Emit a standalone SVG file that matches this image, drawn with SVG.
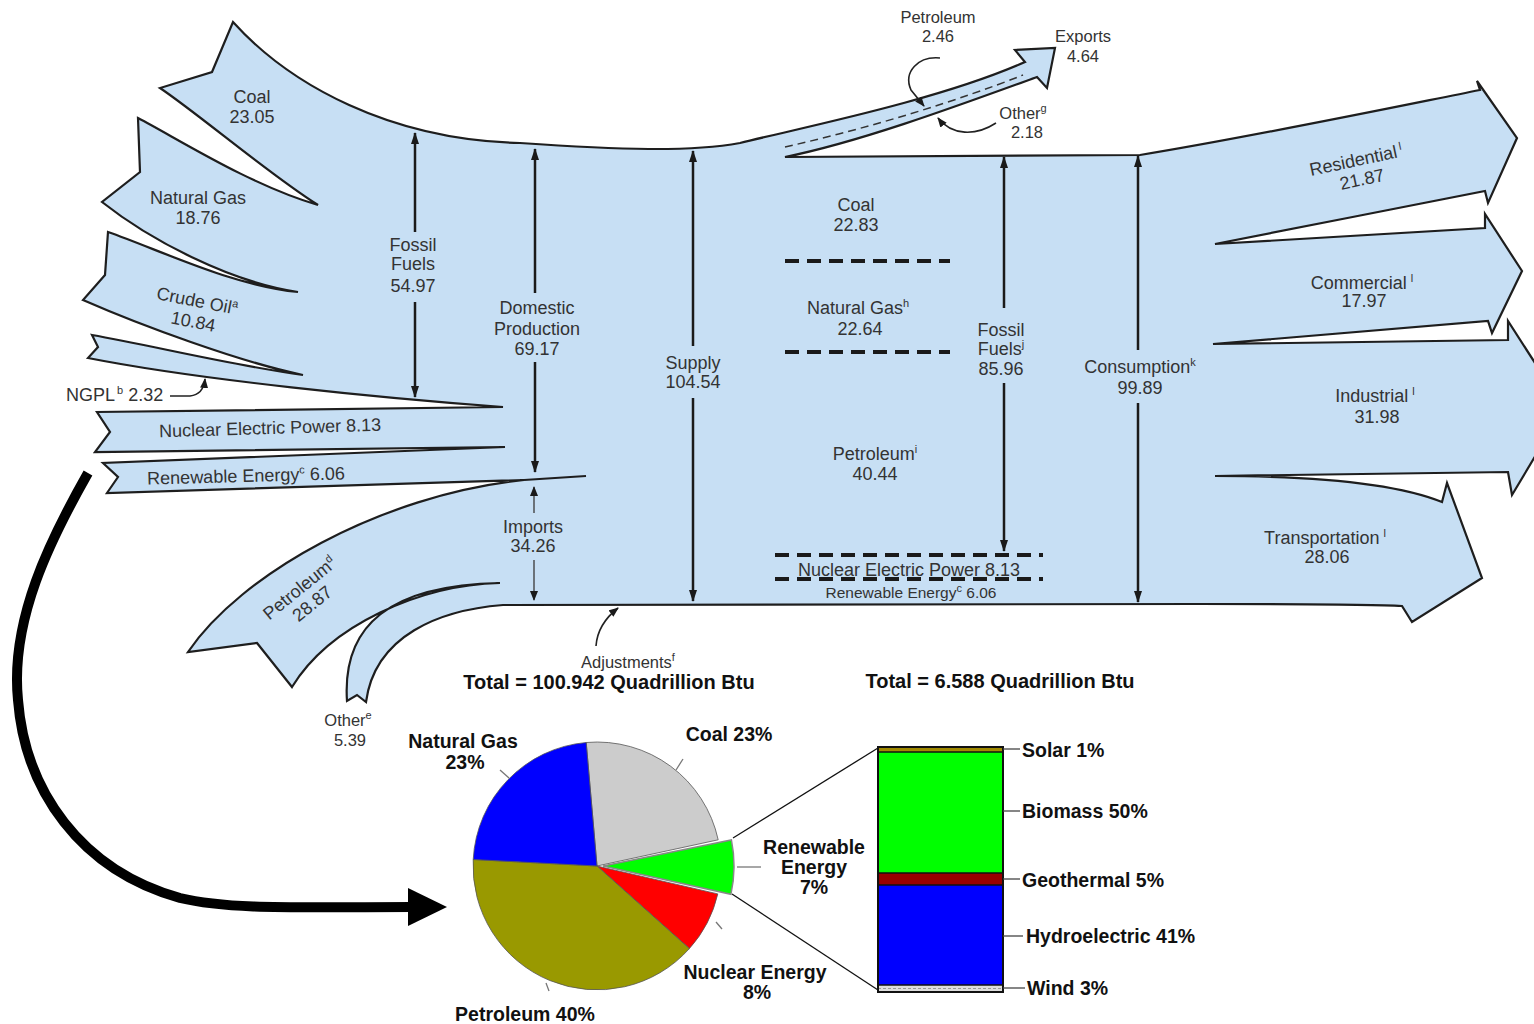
<svg xmlns="http://www.w3.org/2000/svg" width="1534" height="1024" viewBox="0 0 1534 1024">
<style>
.body{fill:#c7dff4;stroke:#1e1e1e;stroke-width:2.2;stroke-linejoin:miter}
.edge{fill:none;stroke:#1e1e1e;stroke-width:2.2}
.lbl{font-family:"Liberation Sans",Arial,sans-serif;font-size:18px;fill:#333;text-anchor:middle}
.lbls{font-family:"Liberation Sans",Arial,sans-serif;font-size:15.5px;fill:#333;text-anchor:middle}
.sup{font-size:11px}
.bold{font-family:"Liberation Sans",Arial,sans-serif;font-weight:bold;font-size:19.5px;fill:#111;text-anchor:middle}
.boldl{font-family:"Liberation Sans",Arial,sans-serif;font-weight:bold;font-size:19.5px;fill:#111;text-anchor:start}
.vline{stroke:#1a1a1a;stroke-width:2.5;fill:none}
.thin{stroke:#444;stroke-width:1.4;fill:none}
.dash{stroke:#1a1a1a;stroke-width:4;stroke-dasharray:14 8;fill:none}
.curve{stroke:#222;stroke-width:1.6;fill:none}
.tick{stroke:#777;stroke-width:1.3}
.slice{stroke:#555;stroke-width:0.8}
</style>
<defs>
<marker id="ah" viewBox="0 0 12 8" refX="11" refY="4" markerWidth="12" markerHeight="8" markerUnits="userSpaceOnUse" orient="auto-start-reverse"><path d="M0,0 L12,4 L0,8 Z" fill="#1a1a1a"/></marker>
<marker id="ahs" viewBox="0 0 10 8" refX="9" refY="4" markerWidth="10" markerHeight="8" markerUnits="userSpaceOnUse" orient="auto-start-reverse"><path d="M0,0 L10,4 L0,8 Z" fill="#1a1a1a"/></marker>
</defs>

<g id="flow-body">
<path class="body" d="M233,22 C290,85 390,140 520,143 C620,150 690,152 740,143 C800,128 940,100 1025,62 L1015,50 L1055,48 L1047,88 L1037,77 C960,105 860,142 785,157 L1140,155 C1250,137 1380,110 1480,90 L1477,81 L1517,138 L1488,203 L1485,191 C1400,207 1300,228 1215,244 L1485,228 L1485,214 L1522,271 L1492,333 L1488,321 L1213,344 L1508,340 L1508,321 L1564,408 L1512,495 L1508,472 L1215,476 C1330,476 1400,485 1442,502 L1447,483 L1482,578 L1412,622 L1402,606 C1370,604 1300,604 1200,604 L503,605 C440,610 375,635 366,702 L357,695 L347,701 C342,625 390,585 500,583 C420,585 330,625 292,687 L257,643 L188,652 C240,575 380,495 524,480 L107,493 L118,477 L103,463 L505,447 L95,452 L110,432 L97,412 L503,407 C380,398 200,380 88,358 L98,347 L92,335 C150,345 230,365 303,375 C240,362 140,325 83,300 L105,275 L108,232 C160,250 230,285 298,292 C230,282 150,240 102,202 L140,172 L138,118 C180,140 250,185 318,205 C270,175 200,115 160,88 L212,72 Z"/>
<path class="edge" d="M524,480 L586,476"/>
<path d="M785,147 C870,128 960,100 1023,75" fill="none" stroke="#333" stroke-width="1.5" stroke-dasharray="8 5"/>
</g>

<g id="connectors">
<line class="vline" x1="415" y1="133" x2="415" y2="232" marker-start="url(#ah)"/>
<line class="vline" x1="415" y1="302" x2="415" y2="397" marker-end="url(#ah)"/>
<line class="vline" x1="535" y1="149" x2="535" y2="293" marker-start="url(#ah)"/>
<line class="vline" x1="535" y1="362" x2="535" y2="472" marker-end="url(#ah)"/>
<line class="thin" x1="534" y1="487" x2="534" y2="513" marker-start="url(#ahs)"/>
<line class="thin" x1="534" y1="560" x2="534" y2="600" marker-end="url(#ahs)"/>
<line class="vline" x1="693" y1="151" x2="693" y2="346" marker-start="url(#ah)"/>
<line class="vline" x1="693" y1="398" x2="693" y2="601" marker-end="url(#ah)"/>
<line class="vline" x1="1004" y1="157" x2="1004" y2="308" marker-start="url(#ah)"/>
<line class="vline" x1="1004" y1="383" x2="1004" y2="551" marker-end="url(#ah)"/>
<line class="vline" x1="1138" y1="156" x2="1138" y2="350" marker-start="url(#ah)"/>
<line class="vline" x1="1138" y1="403" x2="1138" y2="602" marker-end="url(#ah)"/>
<line class="dash" x1="785" y1="261" x2="950" y2="261"/>
<line class="dash" x1="785" y1="352" x2="950" y2="352"/>
<line class="dash" x1="775" y1="555" x2="1043" y2="555"/>
<line class="dash" x1="775" y1="579" x2="1043" y2="579"/>
<path class="curve" d="M940,58 C918,56 903,72 911,90 L924,106" marker-end="url(#ahs)"/>
<path class="curve" d="M996,123 C976,136 952,136 938,118" marker-end="url(#ahs)"/>
<path class="curve" d="M170,396 L190,396 C199,395 204,389 205,379" marker-end="url(#ahs)"/>
<path class="curve" d="M596,646 C597,632 604,619 618,608" marker-end="url(#ahs)" stroke-width="2"/>
<path d="M88,473 C50,540 10,620 18,700 C25,790 80,870 180,898 C230,910 300,907 412,907" fill="none" stroke="#000" stroke-width="10"/>
<polygon points="408,888 447,907 408,926" fill="#000"/>
</g>

<g id="flow-labels">
<text class="lbl" x="252" y="103">Coal</text>
<text class="lbl" x="252" y="123">23.05</text>
<text class="lbl" x="198" y="204">Natural Gas</text>
<text class="lbl" x="198" y="224">18.76</text>
<g transform="rotate(11 197 302)">
<text class="lbl" x="197" y="307">Crude Oil<tspan class="sup" dy="-7">a</tspan></text>
<text class="lbl" x="197" y="328">10.84</text>
</g>
<text class="lbl" x="66" y="401" style="text-anchor:start">NGPL<tspan class="sup" dx="2" dy="-7">b</tspan><tspan dy="7"> 2.32</tspan></text>
<text class="lbl" x="270" y="434" transform="rotate(-1.7 270 428)">Nuclear Electric Power 8.13</text>
<text class="lbl" x="246" y="482" transform="rotate(-1.5 246 476)">Renewable Energy<tspan class="sup" dy="-7">c</tspan><tspan dy="7"> 6.06</tspan></text>
<g transform="rotate(-39 306 596)">
<text class="lbl" x="306" y="592">Petroleum<tspan class="sup" dy="-7">d</tspan></text>
<text class="lbl" x="306" y="612">28.87</text>
</g>
<text class="lbl" x="348" y="726" style="font-size:16.5px">Other<tspan class="sup" dy="-7">e</tspan></text>
<text class="lbl" x="350" y="746" style="font-size:16.5px">5.39</text>
<text class="lbl" x="413" y="251">Fossil</text>
<text class="lbl" x="413" y="270">Fuels</text>
<text class="lbl" x="413" y="292">54.97</text>
<text class="lbl" x="537" y="314">Domestic</text>
<text class="lbl" x="537" y="335">Production</text>
<text class="lbl" x="537" y="355">69.17</text>
<text class="lbl" x="533" y="533">Imports</text>
<text class="lbl" x="533" y="552">34.26</text>
<text class="lbl" x="693" y="369">Supply</text>
<text class="lbl" x="693" y="388">104.54</text>
<text class="lbl" x="628" y="668" style="font-size:16.5px">Adjustments<tspan class="sup" dy="-7">f</tspan></text>
<text class="bold" x="609" y="689" style="font-size:20px">Total = 100.942 Quadrillion Btu</text>
<text class="bold" x="1000" y="688" style="font-size:20px">Total = 6.588 Quadrillion Btu</text>
<text class="lbl" x="938" y="23" style="font-size:16.5px">Petroleum</text>
<text class="lbl" x="938" y="42" style="font-size:16.5px">2.46</text>
<text class="lbl" x="1083" y="42" style="font-size:16.5px">Exports</text>
<text class="lbl" x="1083" y="62" style="font-size:16.5px">4.64</text>
<text class="lbl" x="1023" y="119" style="font-size:16.5px">Other<tspan class="sup" dy="-7">g</tspan></text>
<text class="lbl" x="1027" y="138" style="font-size:16.5px">2.18</text>
<text class="lbl" x="856" y="211">Coal</text>
<text class="lbl" x="856" y="231">22.83</text>
<text class="lbl" x="858" y="314">Natural Gas<tspan class="sup" dy="-7">h</tspan></text>
<text class="lbl" x="860" y="335">22.64</text>
<text class="lbl" x="875" y="460">Petroleum<tspan class="sup" dy="-7">i</tspan></text>
<text class="lbl" x="875" y="480">40.44</text>
<text class="lbl" x="909" y="576">Nuclear Electric Power 8.13</text>
<text class="lbls" x="911" y="598">Renewable Energy<tspan class="sup" dy="-6">c</tspan><tspan dy="6"> 6.06</tspan></text>
<text class="lbl" x="1001" y="336">Fossil</text>
<text class="lbl" x="1001" y="355">Fuels<tspan class="sup" dy="-7">j</tspan></text>
<text class="lbl" x="1001" y="375">85.96</text>
<text class="lbl" x="1140" y="373">Consumption<tspan class="sup" dy="-7">k</tspan></text>
<text class="lbl" x="1140" y="394">99.89</text>
<g transform="rotate(-12 1358 170)">
<text class="lbl" x="1358" y="166">Residential<tspan class="sup" dx="3" dy="-7">l</tspan></text>
<text class="lbl" x="1360" y="186">21.87</text>
</g>
<text class="lbl" x="1362" y="289">Commercial<tspan class="sup" dx="4" dy="-7">l</tspan></text>
<text class="lbl" x="1364" y="307">17.97</text>
<text class="lbl" x="1375" y="402">Industrial<tspan class="sup" dx="4" dy="-7">l</tspan></text>
<text class="lbl" x="1377" y="423">31.98</text>
<text class="lbl" x="1325" y="544">Transportation<tspan class="sup" dx="4" dy="-7">l</tspan></text>
<text class="lbl" x="1327" y="563">28.06</text>
</g>

<g id="pie">
<path class="slice" fill="#cccccc" d="M597,866 L586.2,742.5 A124,124 0 0 1 718.2,839.8 Z"/>
<path class="slice" fill="#ff0000" d="M597,866 L717.8,893.9 A124,124 0 0 1 689.4,948.6 Z"/>
<path class="slice" fill="#999900" d="M597,866 L689.4,948.6 A124,124 0 0 1 473.2,859.5 Z"/>
<path class="slice" fill="#0000ff" d="M597,866 L473.2,859.5 A124,124 0 0 1 586.2,742.5 Z"/>
<path fill="#00ff00" stroke="#888" stroke-width="1.5" d="M603,866 L731.4,839.9 A131,131 0 0 1 730.9,894.3 Z"/>
<line class="tick" x1="676" y1="770" x2="683" y2="759"/>
<line class="tick" x1="509" y1="778" x2="500" y2="770"/>
<line class="tick" x1="737" y1="867" x2="761" y2="867"/>
<line class="tick" x1="716" y1="922" x2="722" y2="929"/>
<line class="tick" x1="546" y1="983" x2="549" y2="991"/>
<text class="bold" x="463" y="748">Natural Gas</text>
<text class="bold" x="465" y="769">23%</text>
<text class="bold" x="729" y="741">Coal 23%</text>
<text class="bold" x="814" y="854">Renewable</text>
<text class="bold" x="814" y="874">Energy</text>
<text class="bold" x="814" y="894">7%</text>
<text class="bold" x="755" y="979">Nuclear Energy</text>
<text class="bold" x="757" y="999">8%</text>
<text class="bold" x="525" y="1021">Petroleum 40%</text>
</g>

<g id="renewable-bar">
<line x1="733" y1="838" x2="878" y2="748" stroke="#111" stroke-width="1.3"/>
<line x1="732" y1="894" x2="878" y2="990" stroke="#111" stroke-width="1.3"/>
<rect x="878" y="747" width="125" height="5" fill="#a08a00"/>
<rect x="878" y="752" width="125" height="121" fill="#00ff00"/>
<rect x="878" y="873" width="125" height="12" fill="#990000"/>
<rect x="878" y="885" width="125" height="100" fill="#0000ff"/>
<rect x="878" y="985" width="125" height="7" fill="#dddddd"/>
<line x1="878" y1="988.5" x2="1003" y2="988.5" stroke="#999" stroke-width="1" stroke-dasharray="3 2"/>
<g stroke="#111" stroke-width="1.6">
<line x1="878" y1="752" x2="1003" y2="752"/>
<line x1="878" y1="873" x2="1003" y2="873"/>
<line x1="878" y1="885" x2="1003" y2="885"/>
<line x1="878" y1="985" x2="1003" y2="985"/>
</g>
<rect x="878" y="747" width="125" height="245" fill="none" stroke="#111" stroke-width="2"/>
<g stroke="#444" stroke-width="1.3">
<line x1="1003" y1="749" x2="1020" y2="749"/>
<line x1="1003" y1="811" x2="1020" y2="811"/>
<line x1="1003" y1="879" x2="1020" y2="879"/>
<line x1="1003" y1="936" x2="1023" y2="936"/>
<line x1="1003" y1="988" x2="1025" y2="988"/>
</g>
<text class="boldl" x="1022" y="757">Solar 1%</text>
<text class="boldl" x="1022" y="818">Biomass 50%</text>
<text class="boldl" x="1022" y="887">Geothermal 5%</text>
<text class="boldl" x="1026" y="943">Hydroelectric 41%</text>
<text class="boldl" x="1027" y="995">Wind 3%</text>
</g>
</svg>
